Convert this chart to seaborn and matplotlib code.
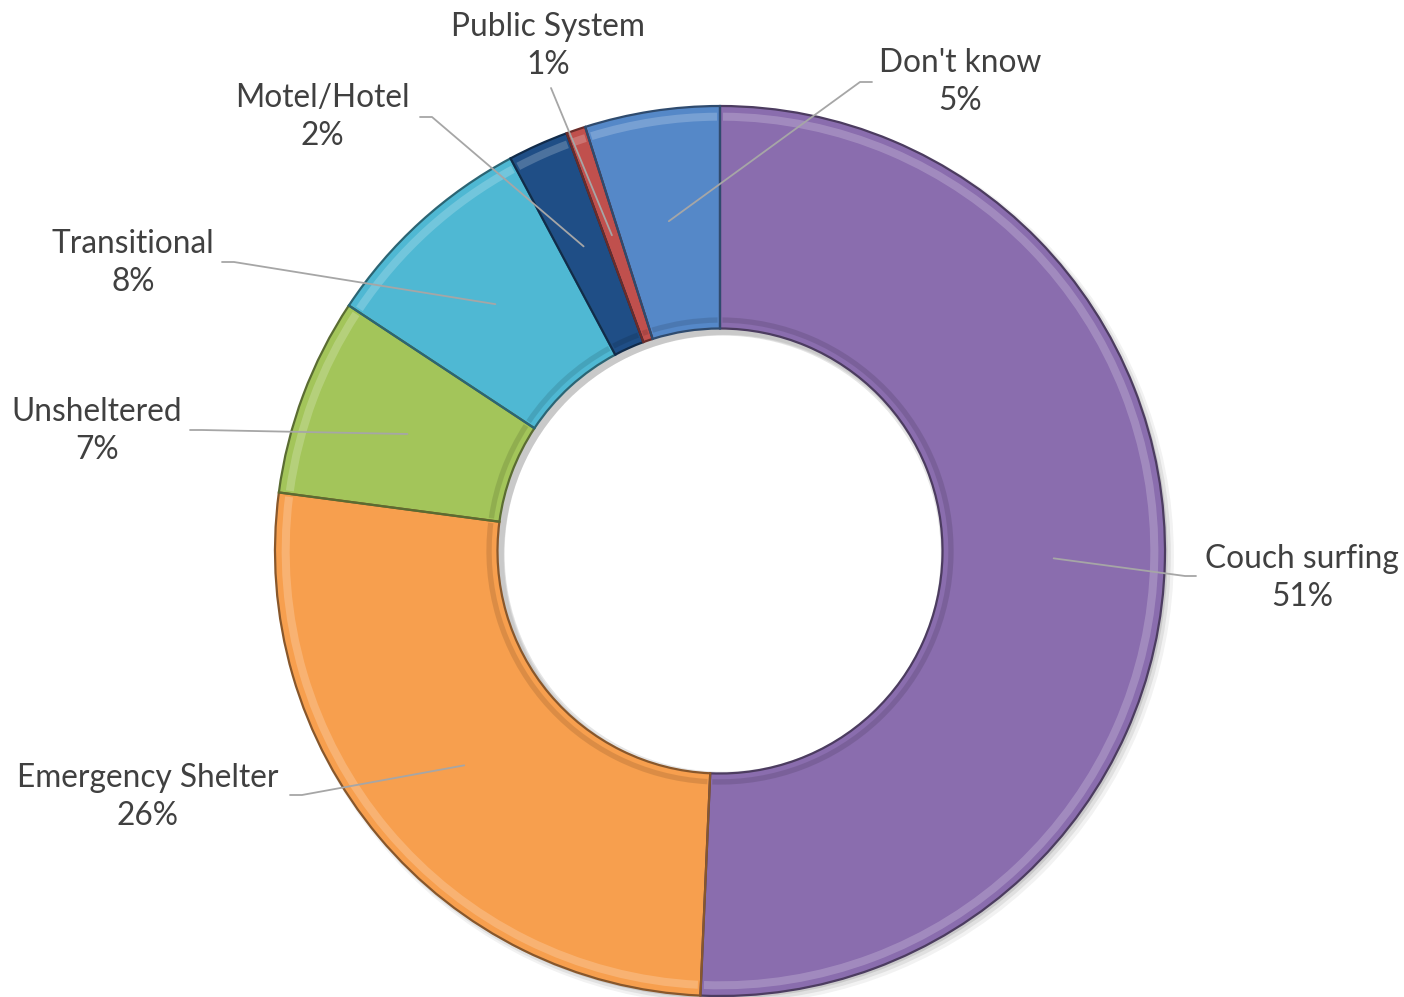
import numpy as np
import matplotlib.pyplot as plt
import matplotlib.colors as mcolors
from matplotlib.patches import Wedge
import seaborn as sns

sns.set_theme(style='white')
plt.rcParams['font.family'] = ['Lato', 'DejaVu Sans']

# data, clockwise from 12 o'clock (shares)
categories = ['Couch surfing', 'Emergency Shelter', 'Unsheltered', 'Transitional',
              'Motel/Hotel', 'Public System', "Don't know"]
shares = [50.7, 26.4, 7.2, 7.9, 2.2, 0.7, 4.9]
colors = ['#8A6DAE', '#F79F4E', '#A3C55A', '#4FB8D3', '#1F4E86', '#C0504D', '#5588C8']

# label layout in pixels: text centre, line start at text side, elbow
label_pos = {
    'Couch surfing': ((1302, 578), (1196, 576), (1185, 576)),
    'Emergency Shelter': ((148, 797), (290, 795), (302, 795)),
    'Unsheltered': ((97, 431), (190, 430), (202, 430)),
    'Transitional': ((133, 263), (222, 262), (234, 262)),
    'Motel/Hotel': ((322, 117), (420, 117), (432, 117)),
    'Public System': ((548, 46), (551, 88), (551, 88)),
    "Don't know": ((960, 82), (872, 82), (860, 82)),
}

W, H = 1404, 997
CX, CY, R = 720, 551, 445


def to_data(p):
    return ((p[0] - CX) / R, (CY - p[1]) / R)


fig = plt.figure(figsize=(W / 100, H / 100), dpi=100)
ax = fig.add_axes([0, 0, 1, 1])

ring = 0.5
# soft shadow behind the ring
for k, a in enumerate([0.05, 0.07, 0.1]):
    off = 0.012 - k * 0.003
    ax.add_patch(Wedge((off, -off), 1.0 + 0.004 * (2 - k), 0, 360,
                       width=ring + 0.01, color='black', alpha=a, lw=0, zorder=1))

wedges, _ = ax.pie(shares, colors=colors, startangle=90, counterclock=False,
                   radius=1.0, wedgeprops=dict(width=ring, linewidth=0))
for w, c in zip(wedges, colors):
    w.set_zorder(2)
    dark = np.array(mcolors.to_rgb(c)) * 0.55
    light = 1 - (1 - np.array(mcolors.to_rgb(c))) * 0.55
    # darker edge
    ax.add_patch(Wedge((0, 0), 1.0, w.theta1, w.theta2, width=ring,
                       facecolor='none', edgecolor=dark, lw=1.6, zorder=3))
    # bevel highlight along outer rim, shade along inner rim
    ax.add_patch(Wedge((0, 0), 0.985, w.theta1 + 0.4, w.theta2 - 0.4, width=0.018,
                       facecolor=light, edgecolor='none', alpha=0.45, zorder=3))
    ax.add_patch(Wedge((0, 0), 0.525, w.theta1 + 0.6, w.theta2 - 0.6, width=0.012,
                       facecolor=dark, edgecolor='none', alpha=0.25, zorder=3))

total = sum(shares)
for w, name, val in zip(wedges, categories, shares):
    mid = np.deg2rad((w.theta1 + w.theta2) / 2)
    tip = (0.75 * np.cos(mid), 0.75 * np.sin(mid))
    text_c, start, elbow = label_pos[name]
    tx, ty = to_data(text_c)
    sx, sy = to_data(start)
    ex, ey = to_data(elbow)
    ax.plot([sx, ex, tip[0]], [sy, ey, tip[1]], color='#A6A6A6', lw=1.3, zorder=5)
    ax.text(tx, ty, f'{name}\n{round(val / total * 100)}%', ha='center', va='center',
            fontsize=22.8, color='#404040', linespacing=1.34, zorder=6)

ax.set_xlim(-CX / R, (W - CX) / R)
ax.set_ylim(-(H - CY) / R, CY / R)
ax.set_aspect('equal')
ax.axis('off')

fig.savefig('out.png', dpi=100, facecolor='white')
